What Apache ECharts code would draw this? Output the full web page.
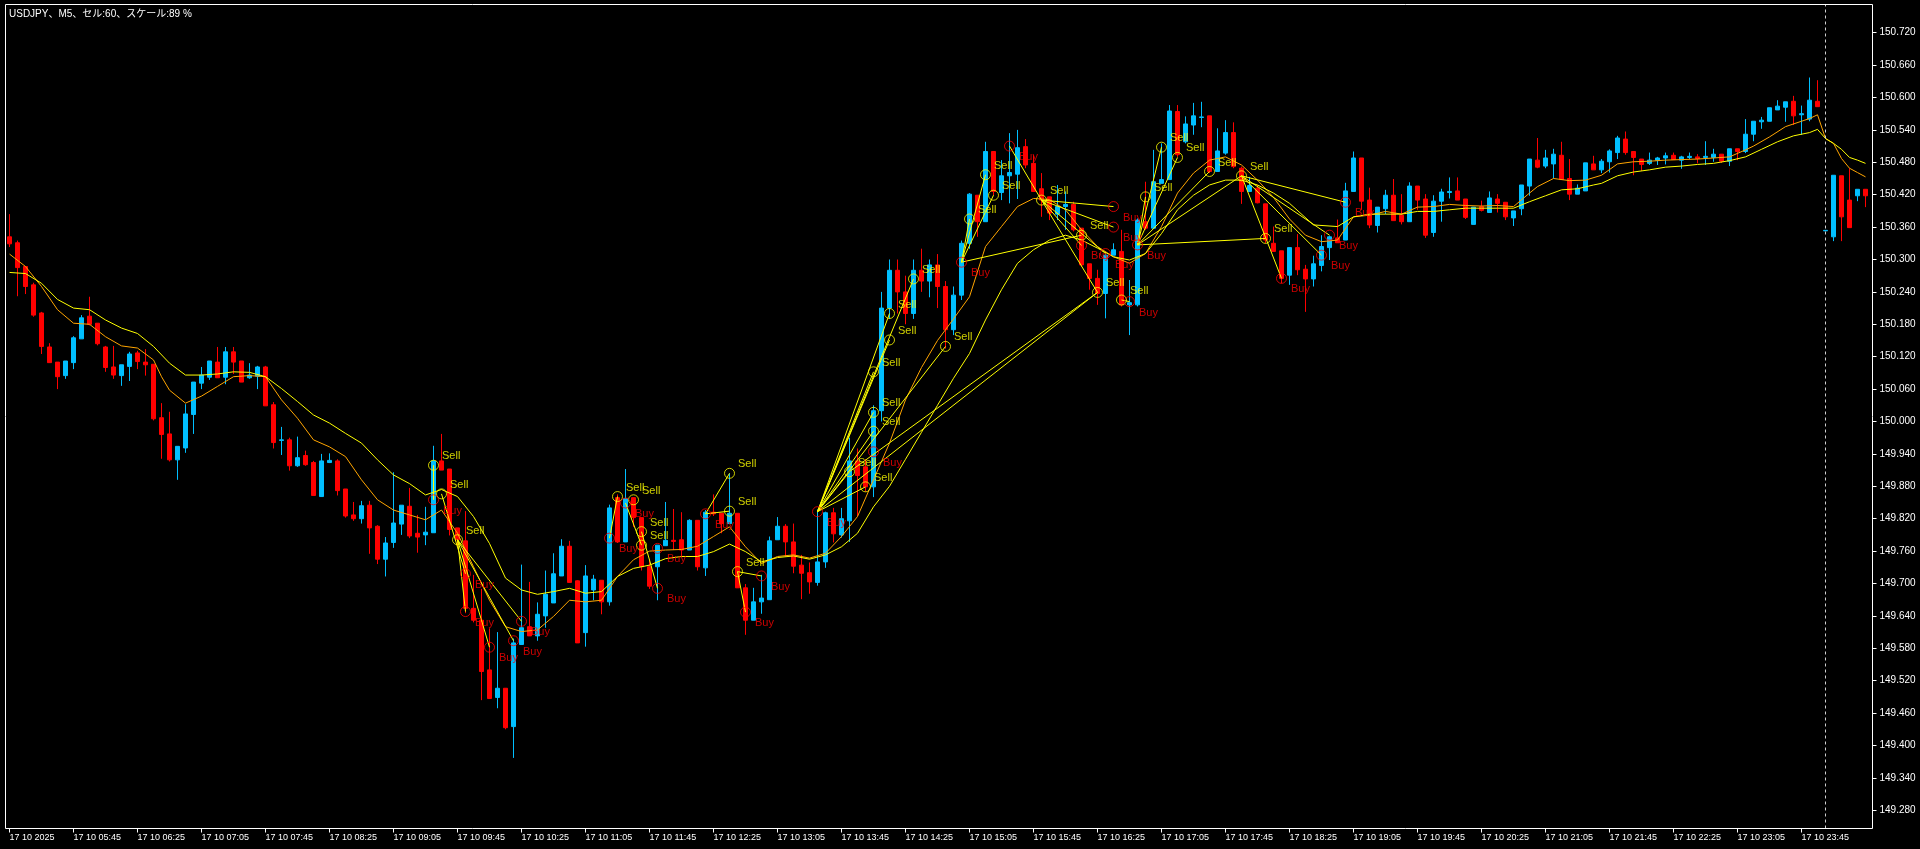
<!DOCTYPE html>
<html><head><meta charset="utf-8">
<script src="https://cdn.jsdelivr.net/npm/echarts@6/dist/echarts.min.js"></script>
<style>html,body{margin:0;padding:0;background:#000;}#c{width:1920px;height:849px;}</style>
</head><body><div id="c"></div>
<script>
const title = 'USDJPY、M5、セル:60、スケール:89 %';
const xTickLabels = ['17 10 2025','17 10 05:45','17 10 06:25','17 10 07:05','17 10 07:45','17 10 08:25','17 10 09:05','17 10 09:45','17 10 10:25','17 10 11:05','17 10 11:45','17 10 12:25','17 10 13:05','17 10 13:45','17 10 14:25','17 10 15:05','17 10 15:45','17 10 16:25','17 10 17:05','17 10 17:45','17 10 18:25','17 10 19:05','17 10 19:45','17 10 20:25','17 10 21:05','17 10 21:45','17 10 22:25','17 10 23:05','17 10 23:45'];
const yTickLabels = ['149.280','149.340','149.400','149.460','149.520','149.580','149.640','149.700','149.760','149.820','149.880','149.940','150.000','150.060','150.120','150.180','150.240','150.300','150.360','150.420','150.480','150.540','150.600','150.660','150.720'];

const open = [150.342,150.331,150.287,150.253,150.201,150.138,150.110,150.085,150.109,150.153,150.195,150.182,150.138,150.101,150.085,150.102,150.127,150.110,150.106,150.007,
149.977,149.929,149.951,150.013,150.071,150.082,150.110,150.082,150.129,150.112,150.081,150.084,150.101,150.031,149.965,149.966,149.918,149.937,149.924,149.861,
149.924,149.927,149.875,149.827,149.820,149.845,149.806,149.745,149.776,149.810,149.843,149.793,149.790,149.794,149.927,149.912,149.803,149.779,149.654,149.632,
149.540,149.489,149.506,149.435,149.587,149.620,149.603,149.640,149.664,149.714,149.769,149.705,149.609,149.688,149.706,149.666,149.859,149.777,149.859,149.822,
149.731,149.731,149.770,149.780,149.781,149.762,149.817,149.729,149.832,149.830,149.811,149.830,149.692,149.632,149.666,149.670,149.781,149.806,149.777,149.734,
149.720,149.702,149.740,149.831,149.790,149.816,149.927,149.916,149.879,150.020,150.210,150.280,150.240,150.200,150.280,150.260,150.290,150.250,150.170,150.234,
150.330,150.419,150.370,150.500,150.424,150.455,150.458,150.509,150.478,150.431,150.416,150.384,150.398,150.402,150.358,150.292,150.265,150.237,150.308,150.315,
150.216,150.216,150.370,150.358,150.441,150.448,150.574,150.518,150.549,150.563,150.566,150.463,150.497,150.535,150.469,150.426,150.432,150.403,150.330,150.316,
150.271,150.322,150.282,150.264,150.289,150.322,150.340,150.336,150.426,150.488,150.410,150.363,150.394,150.419,150.382,150.370,150.436,150.412,150.350,150.408,
150.424,150.427,150.412,150.365,150.398,150.387,150.412,150.406,150.377,150.394,150.436,150.484,150.473,150.477,150.493,150.450,150.421,150.427,150.477,150.466,
150.481,150.498,150.523,150.500,150.486,150.478,150.484,150.488,150.493,150.484,150.489,150.490,150.489,150.489,150.495,150.482,150.505,150.500,150.532,150.555,
150.556,150.577,150.582,150.593,150.568,150.560,150.593,150.353,150.342,150.455,150.410,150.418,150.430];
const high = [150.384,150.335,150.288,150.257,150.203,150.145,150.110,150.112,150.158,150.197,150.231,150.182,150.140,150.140,150.105,150.129,150.131,150.134,150.106,150.034,
150.018,149.954,150.032,150.073,150.101,150.112,150.138,150.138,150.138,150.112,150.108,150.103,150.103,150.036,149.990,149.970,149.972,149.946,149.927,149.940,
149.941,149.930,149.875,149.851,149.853,149.853,149.808,149.786,149.906,149.845,149.877,149.827,149.842,149.955,149.977,149.912,149.803,149.834,149.716,149.690,
149.617,149.610,149.506,149.598,149.735,149.703,149.665,149.724,149.756,149.782,149.779,149.706,149.734,149.716,149.706,149.846,149.865,149.912,149.859,149.822,
149.745,149.771,149.851,149.838,149.832,149.819,149.817,149.836,149.865,149.830,149.904,149.830,149.699,149.692,149.716,149.787,149.823,149.810,149.811,149.753,
149.739,149.837,149.833,149.840,149.840,149.970,149.950,149.930,150.030,150.240,150.300,150.300,150.270,150.300,150.320,150.300,150.310,150.260,150.250,150.335,
150.423,150.419,150.518,150.500,150.484,150.534,150.540,150.523,150.493,150.460,150.416,150.438,150.426,150.407,150.358,150.292,150.281,150.311,150.330,150.355,
150.262,150.376,150.444,150.503,150.515,150.586,150.586,150.565,150.590,150.592,150.566,150.543,150.558,150.554,150.472,150.453,150.438,150.403,150.361,150.316,
150.322,150.347,150.290,150.307,150.345,150.344,150.374,150.442,150.500,150.488,150.433,150.397,150.429,150.449,150.421,150.443,150.436,150.421,150.419,150.431,
150.452,150.452,150.412,150.397,150.409,150.426,150.421,150.406,150.390,150.438,150.486,150.525,150.503,150.505,150.518,150.486,150.439,150.479,150.492,150.486,
150.504,150.529,150.537,150.500,150.486,150.498,150.490,150.498,150.498,150.492,150.498,150.495,150.519,150.505,150.495,150.505,150.505,150.560,150.556,150.564,
150.581,150.595,150.592,150.603,150.585,150.637,150.632,150.354,150.456,150.455,150.469,150.430,150.430];
const low = [150.323,150.232,150.236,150.194,150.125,150.109,150.060,150.079,150.097,150.153,150.178,150.141,150.092,150.079,150.066,150.075,150.097,150.085,150.002,149.931,
149.926,149.892,149.942,149.977,150.060,150.077,150.081,150.069,150.088,150.073,150.079,150.060,150.029,149.950,149.938,149.909,149.916,149.918,149.863,149.861,
149.923,149.863,149.822,149.816,149.811,149.755,149.736,149.713,149.766,149.790,149.784,149.757,149.771,149.794,149.910,149.789,149.768,149.645,149.628,149.484,
149.487,149.469,149.430,149.377,149.587,149.603,149.594,149.618,149.664,149.714,149.702,149.590,149.583,149.669,149.643,149.659,149.775,149.777,149.805,149.724,
149.690,149.669,149.770,149.762,149.750,149.762,149.724,149.714,149.825,149.793,149.811,149.692,149.605,149.632,149.644,149.670,149.781,149.750,149.719,149.671,
149.681,149.696,149.729,149.776,149.785,149.777,149.824,149.870,149.860,150.000,150.190,150.200,150.180,150.190,150.240,150.230,150.210,150.135,150.160,150.225,
150.320,150.342,150.370,150.419,150.410,150.404,150.412,150.469,150.426,150.379,150.373,150.373,150.355,150.352,150.287,150.244,150.216,150.191,150.308,150.213,
150.160,150.213,150.355,150.358,150.441,150.448,150.490,150.515,150.531,150.545,150.460,150.463,150.494,150.469,150.403,150.426,150.404,150.330,150.315,150.256,
150.253,150.271,150.203,150.250,150.278,150.299,150.331,150.336,150.426,150.392,150.358,150.350,150.384,150.372,150.365,150.370,150.392,150.340,150.342,150.370,
150.413,150.410,150.375,150.365,150.389,150.387,150.387,150.373,150.362,150.382,150.418,150.469,150.469,150.450,150.448,150.410,150.421,150.427,150.466,150.460,
150.461,150.486,150.494,150.456,150.464,150.475,150.475,150.476,150.485,150.468,150.486,150.478,150.475,150.481,150.479,150.473,150.484,150.497,150.519,150.542,
150.556,150.577,150.555,150.549,150.531,150.556,150.583,150.353,150.334,150.334,150.359,150.408,150.397];
const close = [150.329,150.285,150.250,150.197,150.139,150.109,150.083,150.112,150.155,150.192,150.180,150.144,150.100,150.086,150.105,150.125,150.111,150.105,150.005,149.976,
149.929,149.954,150.014,150.073,150.086,150.112,150.081,150.129,150.110,150.073,150.086,150.101,150.029,149.961,149.966,149.918,149.933,149.920,149.863,149.927,
149.928,149.872,149.825,149.820,149.844,149.803,149.745,149.775,149.812,149.845,149.788,149.786,149.795,149.927,149.910,149.800,149.781,149.654,149.632,149.537,
149.487,149.506,149.433,149.590,149.618,149.603,149.643,149.680,149.718,149.769,149.702,149.590,149.714,149.708,149.666,149.840,149.777,149.857,149.822,149.731,
149.695,149.771,149.780,149.778,149.762,149.817,149.731,149.832,149.829,149.811,149.830,149.692,149.632,149.666,149.673,149.779,149.806,149.777,149.732,149.719,
149.703,149.740,149.831,149.792,149.820,149.927,149.900,149.879,150.020,150.210,150.280,150.240,150.200,150.280,150.260,150.290,150.250,150.170,150.234,150.330,
150.421,150.370,150.500,150.426,150.455,150.461,150.507,150.475,150.426,150.410,150.386,150.398,150.402,150.355,150.290,150.265,150.237,150.308,150.318,150.216,
150.220,150.373,150.358,150.444,150.448,150.575,150.494,150.551,150.566,150.564,150.463,150.501,150.535,150.472,150.426,150.437,150.405,150.336,150.315,150.265,
150.322,150.281,150.264,150.292,150.324,150.342,150.331,150.427,150.488,150.408,150.364,150.397,150.419,150.372,150.370,150.436,150.410,150.345,150.408,150.425,
150.426,150.410,150.378,150.397,150.391,150.414,150.404,150.379,150.390,150.438,150.486,150.471,150.488,150.495,150.448,150.421,150.432,150.479,150.466,150.482,
150.501,150.525,150.498,150.489,150.476,150.484,150.488,150.492,150.485,150.490,150.491,150.487,150.491,150.495,150.482,150.505,150.500,150.532,150.556,150.558,
150.581,150.584,150.592,150.566,150.570,150.595,150.583,150.354,150.456,150.379,150.359,150.430,150.418];

const maFast = [[0,150.310],[2,150.287],[4,150.250],[6,150.207],[8,150.182],[10,150.180],[12,150.157],[14,150.140],[16,150.136],[18,150.114],[19,150.083],[20,150.058],[22,150.034],[24,150.047],[26,150.065],[28,150.083],[30,150.085],[32,150.083],[34,150.040],[36,150.006],[38,149.966],[40,149.953],[42,149.935],[44,149.892],[46,149.855],[48,149.836],[50,149.827],[52,149.818],[54,149.836],[56,149.793],[58,149.731],[60,149.669],[62,149.620],[64,149.611],[66,149.614],[68,149.639],[70,149.669],[72,149.666],[74,149.669],[76,149.713],[78,149.744],[80,149.760],[82,149.762],[84,149.763],[86,149.769],[88,149.787],[90,149.805],[92,149.768],[94,149.737],[96,149.750],[98,149.753],[100,149.747],[102,149.756],[104,149.787],[106,149.824],[108,149.892],[110,149.960],[112,150.040],[114,150.100],[116,150.150],[118,150.190],[120,150.231],[122,150.324],[124,150.361],[126,150.398],[128,150.413],[130,150.411],[132,150.392],[134,150.355],[136,150.324],[138,150.305],[140,150.293],[142,150.311],[144,150.361],[146,150.423],[148,150.460],[150,150.484],[152,150.490],[154,150.475],[156,150.447],[158,150.415],[160,150.375],[162,150.345],[164,150.333],[166,150.336],[168,150.379],[170,150.382],[172,150.389],[174,150.384],[176,150.397],[178,150.398],[180,150.402],[182,150.400],[184,150.399],[186,150.400],[188,150.398],[190,150.423],[191,150.435],[193,150.450],[195,150.446],[197,150.447],[199,150.456],[201,150.477],[203,150.481],[205,150.482],[207,150.484],[209,150.485],[211,150.486],[213,150.488],[215,150.490],[217,150.503],[218,150.510],[220,150.527],[222,150.546],[224,150.556],[225,150.561],[226,150.568],[227,150.524],[228,150.515],[229,150.487],[230,150.469],[231,150.461],[232,150.453]];
const maSlow = [[0,150.276],[2,150.274],[4,150.256],[6,150.226],[8,150.210],[10,150.207],[12,150.188],[14,150.173],[16,150.163],[18,150.139],[20,150.108],[22,150.086],[24,150.086],[26,150.088],[28,150.092],[30,150.091],[32,150.083],[34,150.061],[36,150.037],[38,150.012],[40,149.997],[42,149.978],[44,149.960],[46,149.929],[48,149.901],[50,149.885],[52,149.864],[54,149.874],[56,149.861],[58,149.824],[60,149.774],[62,149.710],[64,149.688],[66,149.680],[68,149.685],[70,149.691],[72,149.682],[74,149.685],[76,149.713],[78,149.728],[80,149.734],[82,149.746],[84,149.750],[86,149.750],[88,149.759],[90,149.773],[92,149.759],[94,149.740],[96,149.748],[98,149.751],[100,149.745],[102,149.753],[104,149.768],[106,149.793],[108,149.842],[110,149.880],[112,149.930],[114,149.980],[116,150.030],[118,150.080],[120,150.126],[122,150.188],[124,150.244],[126,150.293],[128,150.318],[130,150.336],[132,150.345],[134,150.336],[136,150.321],[138,150.305],[140,150.299],[142,150.311],[144,150.348],[146,150.392],[148,150.419],[150,150.438],[152,150.447],[154,150.447],[156,150.438],[158,150.423],[160,150.404],[163,150.364],[166,150.361],[168,150.379],[170,150.384],[172,150.384],[174,150.384],[176,150.389],[178,150.389],[180,150.392],[182,150.395],[184,150.395],[186,150.395],[188,150.395],[190,150.407],[192,150.418],[194,150.429],[196,150.431],[198,150.438],[199,150.441],[201,150.455],[203,150.462],[205,150.466],[207,150.471],[209,150.473],[211,150.476],[213,150.478],[215,150.483],[217,150.490],[219,150.504],[221,150.518],[223,150.529],[225,150.535],[226,150.541],[227,150.524],[228,150.515],[229,150.504],[230,150.489],[231,150.484],[232,150.478]];

const sellMarks = [[53,149.919],[54,149.866],[56,149.781],[76,149.861],[78,149.855],[79,149.796],[79,149.771],[90,149.904],[90,149.834],[91,149.722],[105,149.907],[107,149.879],[108,149.982],[108,150.017],[108,150.092],[110,150.151],[110,150.200],[113,150.264],[117,150.139],[120,150.375],[122,150.457],[123,150.419],[129,150.410],[134,150.345],[136,150.239],[139,150.225],[142,150.416],[144,150.508],[146,150.489],[150,150.463],[154,150.455],[157,150.339]];
const buyMarks = [[53,149.855],[57,149.718],[57,149.648],[60,149.582],[63,149.594],[64,149.630],[75,149.784],[77,149.849],[81,149.765],[81,149.691],[87,149.829],[92,149.647],[94,149.714],[101,149.833],[108,149.944],[119,150.295],[125,150.510],[134,150.326],[137,150.311],[138,150.398],[138,150.360],[140,150.222],[141,150.327],[159,150.265],[164,150.308],[165,150.345],[167,150.406]];
const tradeLines = [[53,149.919,53,149.855],[54,149.866,57,149.718],[56,149.781,57,149.648],[56,149.781,60,149.582],[56,149.781,63,149.594],[56,149.781,64,149.630],[75,149.784,76,149.861],[77,149.849,79,149.771],[79,149.796,81,149.691],[87,149.829,90,149.904],[87,149.829,90,149.834],[91,149.722,92,149.647],[91,149.722,94,149.714],
[101,149.833,105,149.907],[101,149.833,107,149.879],[101,149.833,108,149.982],[101,149.833,108,150.017],[101,149.833,108,150.092],[101,149.833,110,150.151],[101,149.833,110,150.200],[101,149.833,113,150.264],[101,149.833,117,150.139],[101,149.833,136,150.239],[105,149.907,136,150.239],
[119,150.295,134,150.345],[119,150.295,120,150.375],[119,150.295,122,150.457],[119,150.295,123,150.419],[125,150.510,129,150.410],[129,150.410,138,150.398],[129,150.410,138,150.360],[129,150.410,136,150.239],[129,150.410,134,150.326],[129,150.410,137,150.311],
[141,150.327,157,150.339],[141,150.327,142,150.416],[141,150.327,144,150.508],[141,150.327,146,150.489],[141,150.327,150,150.463],[141,150.327,154,150.455],[154,150.455,159,150.265],[154,150.455,164,150.308],[154,150.455,165,150.345],[154,150.455,167,150.406],[139,150.225,140,150.222]];

const categories = [];
for (let i = 0; i < open.length; i++) {
  let m, d;
  if (i < 227) { m = 5 * 60 + 5 + 5 * i; d = '17 10'; } else { m = 5 * (i - 227); d = '20 10'; }
  categories.push(d + ' ' + String(Math.floor(m / 60)).padStart(2, '0') + ':' + String(m % 60).padStart(2, '0'));
}
const candleData = open.map((o, i) => [o, close[i], low[i], high[i]]);
const yTickVals = yTickLabels.map(Number);
const isTick = (idx) => idx % 8 === 0 && idx / 8 < xTickLabels.length;
const FONT = "'Liberation Sans', Arial, sans-serif";

const chart = echarts.init(document.getElementById('c'), null, {renderer: 'canvas'});
chart.setOption({
  backgroundColor: '#000',
  animation: false,
  grid: {left: 5.5, top: 4.5, width: 1864, height: 824, containLabel: false},
  xAxis: {
    type: 'category', data: categories, boundaryGap: true,
    axisLine: {show: false},
    axisTick: {show: true, alignWithLabel: true, interval: isTick, length: 4, lineStyle: {color: '#fff'}},
    axisLabel: {interval: isTick, formatter: (v, i) => (i % 8 === 0 ? (xTickLabels[i / 8] || '') : ''), align: 'left', color: '#fff', fontSize: 9, fontFamily: FONT, margin: 5},
    splitLine: {show: false}
  },
  yAxis: {
    type: 'value', position: 'right', offset: 3, min: 149.2463, max: 150.7722, scale: true,
    axisLine: {show: false},
    axisTick: {show: true, length: 4, customValues: yTickVals, lineStyle: {color: '#fff'}},
    axisLabel: {customValues: yTickVals, formatter: v => v.toFixed(3), color: '#fff', fontSize: 10, fontFamily: FONT, margin: 7},
    splitLine: {show: false}
  },
  graphic: [
    {type: 'rect', silent: true, z: 100, shape: {x: 5.5, y: 4.5, width: 1867, height: 824}, style: {fill: 'none', stroke: '#ffffff', lineWidth: 1}},
    {type: 'text', silent: true, z: 100, x: 9, y: 9, style: {text: title, fill: '#ffffff', font: "10px 'Liberation Sans', 'Noto Sans CJK JP', sans-serif"}}
  ],
  series: [
    {
      type: 'candlestick', data: candleData, barWidth: 4, z: 2,
      itemStyle: {color: '#00bfff', color0: '#ff0000', borderColor: '#00bfff', borderColor0: '#ff0000', borderWidth: 1},
      markLine: {silent: true, symbol: ['none', 'none'], label: {show: false},
        lineStyle: {color: '#d0d0d0', type: [3, 3], width: 1},
        data: [{xAxis: categories[227]}]}
    },
    {type: 'line', data: maFast, showSymbol: false, symbol: 'none', z: 3, lineStyle: {color: '#ffa500', width: 1}},
    {type: 'line', data: maSlow, showSymbol: false, symbol: 'none', z: 3, lineStyle: {color: '#ffff00', width: 1}},
    {type: 'lines', coordinateSystem: 'cartesian2d', z: 4, polyline: false,
      lineStyle: {color: '#ffff00', width: 1, opacity: 1},
      data: tradeLines.map(t => ({coords: [[t[0], t[1]], [t[2], t[3]]]}))},
    {type: 'scatter', data: sellMarks, z: 5, symbol: 'circle', symbolSize: 10,
      itemStyle: {color: 'rgba(0,0,0,0)', borderColor: '#ffff00', borderWidth: 1},
      label: {show: true, formatter: 'Sell', position: 'right', distance: 3, offset: [0, -9], color: '#ffff00', fontSize: 11, fontFamily: FONT}},
    {type: 'scatter', data: buyMarks, z: 5, symbol: 'circle', symbolSize: 10,
      itemStyle: {color: 'rgba(0,0,0,0)', borderColor: '#ff0000', borderWidth: 1},
      label: {show: true, formatter: 'Buy', position: 'right', distance: 4, offset: [0, 11], color: '#ff0000', fontSize: 11, fontFamily: FONT}}
  ]
});
</script>
</body></html>
